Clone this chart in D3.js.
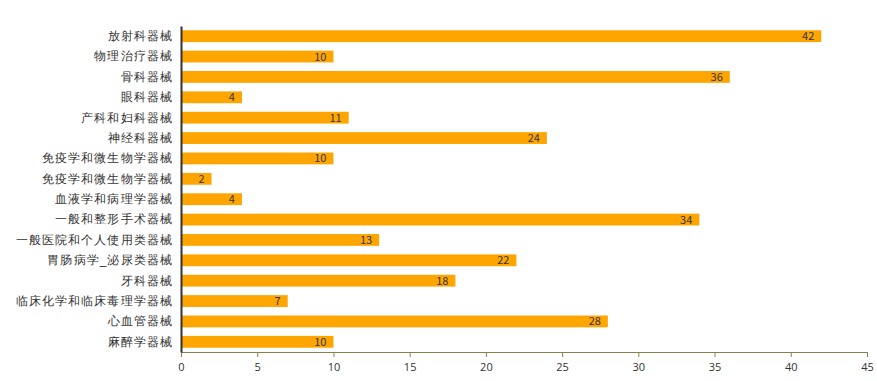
<!DOCTYPE html>
<html>
<head>
<meta charset="utf-8">
<script src="https://cdn.jsdelivr.net/npm/d3@7"></script>
<style>
  body { margin: 0; background: #fff; }
  svg { font-family: "Noto Sans CJK SC", "Noto Sans", sans-serif; }
</style>
</head>
<body>
<svg id="chart" width="877" height="381"></svg>
<script>
// categories, top to bottom
var categories = [
  "放射科器械", "物理治疗器械", "骨科器械", "眼科器械", "产科和妇科器械",
  "神经科器械", "免疫学和微生物学器械", "免疫学和微生物学器械", "血液学和病理学器械",
  "一般和整形手术器械", "一般医院和个人使用类器械", "胃肠病学_泌尿类器械", "牙科器械",
  "临床化学和临床毒理学器械", "心血管器械", "麻醉学器械"
];
var counts = [42, 10, 36, 4, 11, 24, 10, 2, 4, 34, 13, 22, 18, 7, 28, 10];
var xTicks = [0, 5, 10, 15, 20, 25, 30, 35, 40, 45];

var svg = d3.select("#chart");
var margin = {left: 181, right: 10, top: 26, bottom: 29};
var width = +svg.attr("width"), height = +svg.attr("height");

var rows = categories.map(function(c, i) { return {key: i, label: c, count: counts[i]}; });

var x = d3.scaleLinear().domain([0, 45]).range([margin.left, width - margin.right]);
var y = d3.scaleBand()
  .domain(rows.map(function(d) { return d.key; }))
  .range([margin.top, height - margin.bottom])
  .paddingInner(0.42).paddingOuter(0.21);

// bars
svg.append("g").selectAll("rect")
  .data(rows).enter()
  .append("rect")
  .attr("x", x(0))
  .attr("y", function(d) { return y(d.key); })
  .attr("width", function(d) { return x(d.count) - x(0); })
  .attr("height", y.bandwidth())
  .attr("fill", "#ffa500");

// value labels
svg.append("g").selectAll("text")
  .data(rows).enter()
  .append("text")
  .attr("x", function(d) { return x(d.count) - 7; })
  .attr("y", function(d) { return y(d.key) + y.bandwidth() / 2; })
  .attr("dy", "0.36em")
  .attr("text-anchor", "end")
  .attr("font-size", 11)
  .attr("fill", "#333")
  .text(function(d) { return d.count; });

// x axis
var xAxis = svg.append("g")
  .attr("transform", "translate(0," + (height - margin.bottom) + ")")
  .call(d3.axisBottom(x).tickValues(xTicks).tickSize(5).tickPadding(6).tickSizeOuter(0));
xAxis.select(".domain").attr("stroke", "#8a8050");
xAxis.selectAll(".tick line").attr("stroke", "#8a8050");
xAxis.selectAll("text").attr("font-size", 11).attr("fill", "#333")
  .attr("font-family", "'Open Sans', sans-serif");

// y axis
var yAxis = svg.append("g")
  .attr("transform", "translate(" + margin.left + ",0)")
  .call(d3.axisLeft(y).tickSize(0).tickPadding(8)
    .tickFormat(function(k) { return categories[k]; }));
yAxis.select(".domain").attr("stroke", "#333").attr("stroke-width", 2);
yAxis.selectAll("text").attr("font-size", 12).attr("letter-spacing", 1.1).attr("fill", "#333");
</script>
</body>
</html>
